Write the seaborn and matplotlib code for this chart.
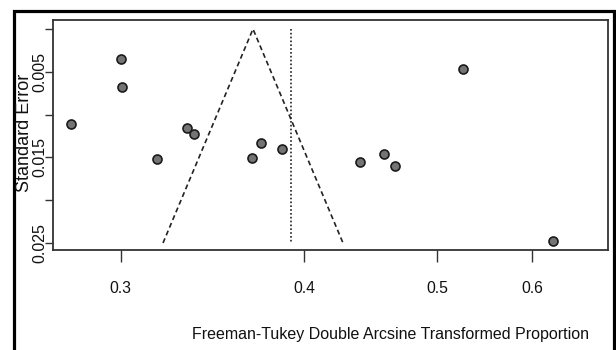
import matplotlib
matplotlib.use("Agg")
import matplotlib.pyplot as plt
from matplotlib.patches import Rectangle
import seaborn as sns
import pandas as pd
import numpy as np

# ---- data (transformed scale) ----
effect = [0.2728, 0.3001, 0.3008, 0.3197, 0.3361, 0.3401, 0.3714,
          0.3763, 0.3877, 0.4302, 0.4436, 0.4492, 0.4864, 0.5354]
std_err = [0.01106, 0.00354, 0.00674, 0.01522, 0.01160, 0.01230, 0.01503,
           0.01332, 0.01402, 0.01550, 0.01460, 0.01600, 0.00471, 0.02477]
funnel_center = 0.3721
funnel_se_max = 0.025
summary_est = 0.3928
x_tick_pos = [0.3, 0.4, 0.4722, 0.524]
x_tick_labels = ["0.3", "0.4", "0.5", "0.6"]
y_ticks = [0.0, 0.005, 0.010, 0.015, 0.020, 0.025]
y_tick_labels = ["", "0.005", "", "0.015", "", "0.025"]

df = pd.DataFrame({"effect": effect, "se": std_err})

sns.set_theme(style="white")
plt.rcParams["font.family"] = ["Liberation Sans", "DejaVu Sans"]

W, H = 616, 350
fig = plt.figure(figsize=(W / 100, H / 100), dpi=100)
ax = fig.add_axes([53 / W, 1 - 250 / H, (608 - 53) / W, (250 - 20) / H])

# funnel
z = 1.96
ax.plot([funnel_center - z * funnel_se_max, funnel_center, funnel_center + z * funnel_se_max],
        [funnel_se_max, 0, funnel_se_max], color="#222222", lw=1.2,
        linestyle=(0, (3.0, 2.0)), zorder=2)
ax.plot([summary_est, summary_est], [0, funnel_se_max], color="#222222", lw=1.2,
        linestyle=(0, (1.0, 1.3)), zorder=2)

sns.scatterplot(data=df, x="effect", y="se", ax=ax, s=42, color="#747474",
                edgecolor="#1a1a1a", linewidth=1.2, zorder=3, legend=False)

ax.set_xlim(0.2632, 0.5654)
ax.set_ylim(0.02582, -0.00105)

ax.set_xticks(x_tick_pos)
ax.set_xticklabels(x_tick_labels, fontsize=11.3, color="#111111")
ax.set_yticks(y_ticks)
ax.set_yticklabels(y_tick_labels, fontsize=11.5, rotation=90, va="center",
                   color="#111111")
ax.tick_params(axis="x", direction="out", length=8.5, width=1.0, pad=14,
               color="#333333", bottom=True)
ax.tick_params(axis="y", direction="out", length=5.5, width=1.0, pad=-1.8,
               color="#333333", left=True)
ax.set_xlabel("")
ax.set_ylabel("")
for sp in ax.spines.values():
    sp.set_color("#333333")
    sp.set_linewidth(1.3)

fig.text(24.5 / W, 1 - 132.5 / H, "Standard Error", rotation=90, ha="center",
         va="center", fontsize=13, color="#111111")
fig.text(390 / W, 1 - 335 / H, "Freeman-Tukey Double Arcsine Transformed Proportion",
         ha="center", va="center", fontsize=11.5, color="#111111")

# outer frame
fig.add_artist(Rectangle((13.5 / W, -0.05), (613.5 - 13.5) / W, 1.05 - 11 / H,
                         transform=fig.transFigure, fill=False,
                         edgecolor="black", lw=2.3))

fig.savefig("out.png", dpi=100)
